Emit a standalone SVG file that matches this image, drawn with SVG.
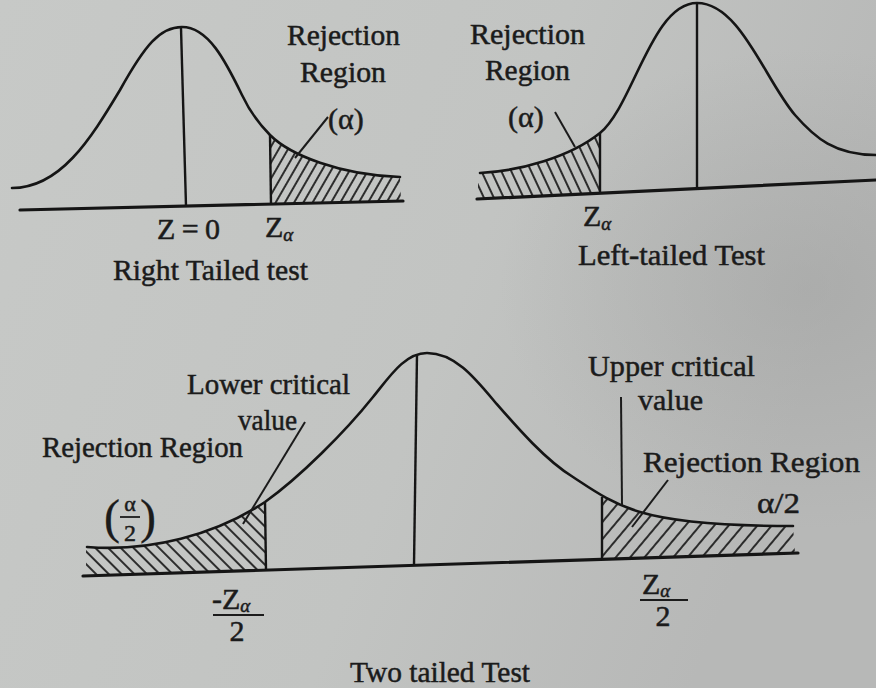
<svg xmlns="http://www.w3.org/2000/svg" width="876" height="688" viewBox="0 0 876 688">
<defs>
<linearGradient id="bg" x1="0" y1="0" x2="1" y2="0.3">
<stop offset="0" stop-color="#c7c9c7"/>
<stop offset="0.6" stop-color="#c2c4c2"/>
<stop offset="1" stop-color="#b7b8b7"/>
</linearGradient>
<radialGradient id="shade" cx="0.92" cy="0.42" r="0.35">
<stop offset="0" stop-color="#9c9d9c" stop-opacity="0.45"/>
<stop offset="1" stop-color="#9c9d9c" stop-opacity="0"/>
</radialGradient>
<pattern id="hTL" patternUnits="userSpaceOnUse" width="8" height="20" patternTransform="rotate(30)"><line x1="4" y1="-1" x2="4" y2="21" stroke="#1b1b1b" stroke-width="1.8"/></pattern>
<pattern id="hTR" patternUnits="userSpaceOnUse" width="9" height="20" patternTransform="rotate(-25)"><line x1="4" y1="-1" x2="4" y2="21" stroke="#1b1b1b" stroke-width="1.8"/></pattern>
<pattern id="hBL" patternUnits="userSpaceOnUse" width="9" height="20" patternTransform="rotate(-45)"><line x1="4" y1="-1" x2="4" y2="21" stroke="#1b1b1b" stroke-width="1.8"/></pattern>
<pattern id="hBR" patternUnits="userSpaceOnUse" width="11" height="20" patternTransform="rotate(40)"><line x1="5" y1="-1" x2="5" y2="21" stroke="#1b1b1b" stroke-width="1.8"/></pattern>
<clipPath id="cTL"><path d="M12,188 C60,188 90,140 120,90 C145,45 160,27 182,27 C208,27 225,60 242,95 C250,112 260,125 270,135 C290,155 340,175 400,177 L401,201 L20,210 Z"/></clipPath>
<clipPath id="cTR"><path d="M480,173 C520,171 570,157 600,133 C633,106 652,3 697,3 C740,3 765,80 795,115 C815,138 835,155 876,155 L876,180 L477,199 L478,173 Z"/></clipPath>
<clipPath id="cB"><path d="M87,547 C150,552 215,535 265,502 C300,477 345,432 373,397 C390,376 405,353 427,353 C455,353 475,378 495,402 C515,425 545,460 573,477 C590,488 610,503 640,512 C670,521 720,526 793,526 L795,553 L85,576 L86,547 Z"/></clipPath>
</defs>
<style>
.t{font-family:"Liberation Serif","Times New Roman",serif;font-size:30px;fill:#1b1b1b;stroke:#1b1b1b;stroke-width:0.5px}
.m{text-anchor:middle}
.c{fill:none;stroke:#151515;stroke-width:2.6;stroke-linecap:round}
.ax{stroke:#151515;stroke-width:3.2;stroke-linecap:round}
.v{stroke:#151515;stroke-width:2.4}
.ld{stroke:#1b1b1b;stroke-width:2;fill:none}
.sub{font-size:19px;font-style:italic}
.par{font-size:48px;stroke-width:0.3px}
.fa{font-size:22px}
.f2{font-size:24px}
</style>
<rect width="876" height="688" fill="url(#bg)"/>
<rect width="876" height="688" fill="url(#shade)"/>

<g id="right-tailed">
<rect x="271" y="125" width="130" height="90" fill="url(#hTL)" clip-path="url(#cTL)"/>
<path class="c" d="M12,188 C60,188 90,140 120,90 C145,45 160,27 182,27 C208,27 225,60 242,95 C250,112 260,125 270,135 C290,155 340,175 400,177"/>
<line class="ax" x1="20" y1="210" x2="403" y2="201"/>
<line class="v" x1="181" y1="28" x2="186" y2="206"/>
<line class="v" x1="270" y1="135" x2="271" y2="204"/>
<text class="t" x="287" y="45" textLength="113" lengthAdjust="spacingAndGlyphs">Rejection</text>
<text class="t" x="300" y="82" textLength="86" lengthAdjust="spacingAndGlyphs">Region</text>
<text class="t" x="328" y="129">(α)</text>
<text class="t" x="157" y="239" textLength="63" lengthAdjust="spacing">Z=0</text>
<text class="t" x="265" y="237">Z<tspan class="sub" dy="4">α</tspan></text>
<text class="t" x="113" y="280" textLength="195" lengthAdjust="spacingAndGlyphs">Right Tailed test</text>
</g>

<g id="left-tailed">
<rect x="478" y="125" width="122" height="80" fill="url(#hTR)" clip-path="url(#cTR)"/>
<path class="c" d="M480,173 C520,171 570,157 600,133 C633,106 652,3 697,3 C740,3 765,80 795,115 C815,138 835,155 876,155"/>
<line class="ax" x1="477" y1="199" x2="876" y2="180"/>
<line class="v" x1="697" y1="4" x2="697" y2="188"/>
<line class="v" x1="600" y1="133" x2="600" y2="193"/>
<text class="t" x="470" y="44" textLength="115" lengthAdjust="spacingAndGlyphs">Rejection</text>
<text class="t" x="485" y="80" textLength="85" lengthAdjust="spacingAndGlyphs">Region</text>
<text class="t" x="508" y="127">(α)</text>
<text class="t" x="583" y="226">Z<tspan class="sub" dy="4">α</tspan></text>
<text class="t" x="578" y="265" textLength="187" lengthAdjust="spacingAndGlyphs">Left-tailed Test</text>
</g>

<g id="two-tailed">
<rect x="86" y="495" width="179" height="85" fill="url(#hBL)" clip-path="url(#cB)"/>
<rect x="602" y="490" width="193" height="75" fill="url(#hBR)" clip-path="url(#cB)"/>
<path class="c" d="M87,547 C150,552 215,535 265,502 C300,477 345,432 373,397 C390,376 405,353 427,353 C455,353 475,378 495,402 C515,425 545,460 573,477 C590,488 610,503 640,512 C670,521 720,526 793,526"/>
<line class="ax" x1="83" y1="576" x2="798" y2="553"/>
<line class="v" x1="417" y1="354" x2="414" y2="565"/>
<line class="v" x1="265" y1="502" x2="266" y2="570"/>
<line class="v" x1="602" y1="497" x2="602" y2="559"/>
<text class="t" x="187" y="394" textLength="163" lengthAdjust="spacingAndGlyphs">Lower critical</text>
<text class="t" x="238" y="430" textLength="59" lengthAdjust="spacingAndGlyphs">value</text>
<text class="t" x="42" y="457" textLength="201" lengthAdjust="spacingAndGlyphs">Rejection Region</text>
<text class="t par" x="104" y="533">(</text>
<text class="t m fa" x="130" y="511">α</text>
<line x1="120" y1="517" x2="140" y2="517" stroke="#1b1b1b" stroke-width="1.8"/>
<text class="t m f2" x="130" y="541">2</text>
<text class="t par" x="140" y="533">)</text>
<text class="t" x="212" y="609">-Z<tspan class="sub" dy="3">α</tspan></text>
<line x1="213" y1="615" x2="264" y2="615" stroke="#1b1b1b" stroke-width="1.8"/>
<text class="t m" x="237" y="641">2</text>
<text class="t" x="642" y="594">Z<tspan class="sub" dy="3">α</tspan></text>
<line x1="640" y1="600" x2="688" y2="600" stroke="#1b1b1b" stroke-width="1.8"/>
<text class="t m" x="663" y="626">2</text>
<text class="t" x="588" y="376" textLength="167" lengthAdjust="spacingAndGlyphs">Upper critical</text>
<text class="t" x="638" y="410" textLength="65" lengthAdjust="spacingAndGlyphs">value</text>
<text class="t" x="643" y="472" textLength="217" lengthAdjust="spacingAndGlyphs">Rejection Region</text>
<text class="t" x="757" y="513" textLength="43" lengthAdjust="spacingAndGlyphs">α/2</text>
<text class="t" x="350" y="682" textLength="180" lengthAdjust="spacingAndGlyphs">Two tailed Test</text>
</g>

<g id="connectors">
<line class="ld" x1="295" y1="158" x2="328" y2="117"/>
<line class="ld" x1="555" y1="112" x2="575" y2="147"/>
<line class="ld" x1="305" y1="422" x2="243" y2="524"/>
<line class="ld" x1="621" y1="397" x2="622" y2="505"/>
<line class="ld" x1="668" y1="480" x2="632" y2="527"/>
</g>
</svg>
